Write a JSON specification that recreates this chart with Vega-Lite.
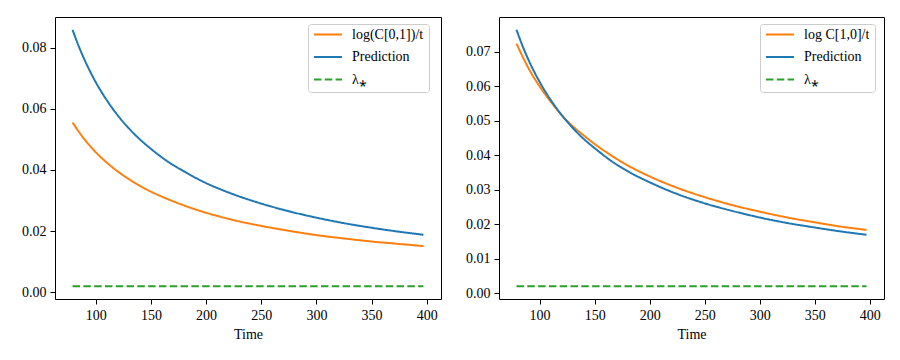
{
  "$schema": "https://vega.github.io/schema/vega-lite/v6.json",
  "padding": {"left": 18, "top": 16, "right": 5, "bottom": 5},
  "background": "white",
  "spacing": 20,
  "config": {
    "font": "Liberation Serif",
    "view": {"stroke": "black", "strokeWidth": 1},
    "axis": {
      "domain": false,
      "grid": false,
      "ticks": true,
      "tickColor": "black",
      "tickSize": 5,
      "tickWidth": 1,
      "labelColor": "black",
      "labelFont": "Liberation Serif",
      "labelFontSize": 14,
      "labelPadding": 4,
      "titleFont": "Liberation Serif",
      "titleFontSize": 14,
      "titleFontWeight": "normal",
      "titleColor": "black"
    },
    "legend": {
      "labelFont": "Liberation Serif",
      "labelFontSize": 14,
      "labelColor": "black",
      "symbolType": "stroke",
      "symbolSize": 784,
      "symbolStrokeWidth": 2,
      "labelOffset": 9,
      "clipHeight": 11,
      "rowPadding": 7.5,
      "padding": 5,
      "strokeColor": "#cccccc",
      "fillColor": "rgba(255,255,255,0.8)",
      "cornerRadius": 3,
      "title": null
    }
  },
  "datasets": {
    "rows": [
      {"panel": "L", "series": "log(C[0,1])/t", "t": 79, "v": 0.0555},
      {"panel": "L", "series": "log(C[0,1])/t", "t": 85, "v": 0.0523},
      {"panel": "L", "series": "log(C[0,1])/t", "t": 90, "v": 0.0499},
      {"panel": "L", "series": "log(C[0,1])/t", "t": 100, "v": 0.0458},
      {"panel": "L", "series": "log(C[0,1])/t", "t": 110, "v": 0.0424},
      {"panel": "L", "series": "log(C[0,1])/t", "t": 120, "v": 0.0395},
      {"panel": "L", "series": "log(C[0,1])/t", "t": 130, "v": 0.0370},
      {"panel": "L", "series": "log(C[0,1])/t", "t": 140, "v": 0.0348},
      {"panel": "L", "series": "log(C[0,1])/t", "t": 150, "v": 0.0329},
      {"panel": "L", "series": "log(C[0,1])/t", "t": 165, "v": 0.0305},
      {"panel": "L", "series": "log(C[0,1])/t", "t": 180, "v": 0.0284},
      {"panel": "L", "series": "log(C[0,1])/t", "t": 200, "v": 0.0260},
      {"panel": "L", "series": "log(C[0,1])/t", "t": 225, "v": 0.0236},
      {"panel": "L", "series": "log(C[0,1])/t", "t": 250, "v": 0.0217},
      {"panel": "L", "series": "log(C[0,1])/t", "t": 275, "v": 0.0201},
      {"panel": "L", "series": "log(C[0,1])/t", "t": 300, "v": 0.0187},
      {"panel": "L", "series": "log(C[0,1])/t", "t": 325, "v": 0.0176},
      {"panel": "L", "series": "log(C[0,1])/t", "t": 350, "v": 0.0166},
      {"panel": "L", "series": "log(C[0,1])/t", "t": 375, "v": 0.0158},
      {"panel": "L", "series": "log(C[0,1])/t", "t": 397, "v": 0.0151},
      {"panel": "L", "series": "Prediction", "t": 79, "v": 0.0858},
      {"panel": "L", "series": "Prediction", "t": 85, "v": 0.0801},
      {"panel": "L", "series": "Prediction", "t": 90, "v": 0.0759},
      {"panel": "L", "series": "Prediction", "t": 100, "v": 0.0687},
      {"panel": "L", "series": "Prediction", "t": 110, "v": 0.0628},
      {"panel": "L", "series": "Prediction", "t": 120, "v": 0.0578},
      {"panel": "L", "series": "Prediction", "t": 130, "v": 0.0536},
      {"panel": "L", "series": "Prediction", "t": 140, "v": 0.0500},
      {"panel": "L", "series": "Prediction", "t": 150, "v": 0.0469},
      {"panel": "L", "series": "Prediction", "t": 165, "v": 0.0428},
      {"panel": "L", "series": "Prediction", "t": 180, "v": 0.0395},
      {"panel": "L", "series": "Prediction", "t": 200, "v": 0.0357},
      {"panel": "L", "series": "Prediction", "t": 225, "v": 0.0320},
      {"panel": "L", "series": "Prediction", "t": 250, "v": 0.0290},
      {"panel": "L", "series": "Prediction", "t": 275, "v": 0.0265},
      {"panel": "L", "series": "Prediction", "t": 300, "v": 0.0244},
      {"panel": "L", "series": "Prediction", "t": 325, "v": 0.0226},
      {"panel": "L", "series": "Prediction", "t": 350, "v": 0.0211},
      {"panel": "L", "series": "Prediction", "t": 375, "v": 0.0198},
      {"panel": "L", "series": "Prediction", "t": 397, "v": 0.0188},
      {"panel": "L", "series": "λ⁎", "t": 79, "v": 0.002},
      {"panel": "L", "series": "λ⁎", "t": 397, "v": 0.002},
      {"panel": "R", "series": "log C[1,0]/t", "t": 79, "v": 0.0723},
      {"panel": "R", "series": "log C[1,0]/t", "t": 85, "v": 0.0682},
      {"panel": "R", "series": "log C[1,0]/t", "t": 90, "v": 0.0651},
      {"panel": "R", "series": "log C[1,0]/t", "t": 100, "v": 0.0599},
      {"panel": "R", "series": "log C[1,0]/t", "t": 110, "v": 0.0555},
      {"panel": "R", "series": "log C[1,0]/t", "t": 120, "v": 0.0516},
      {"panel": "R", "series": "log C[1,0]/t", "t": 130, "v": 0.0484},
      {"panel": "R", "series": "log C[1,0]/t", "t": 140, "v": 0.0457},
      {"panel": "R", "series": "log C[1,0]/t", "t": 150, "v": 0.0432},
      {"panel": "R", "series": "log C[1,0]/t", "t": 165, "v": 0.0399},
      {"panel": "R", "series": "log C[1,0]/t", "t": 180, "v": 0.0370},
      {"panel": "R", "series": "log C[1,0]/t", "t": 200, "v": 0.0338},
      {"panel": "R", "series": "log C[1,0]/t", "t": 225, "v": 0.0305},
      {"panel": "R", "series": "log C[1,0]/t", "t": 250, "v": 0.0278},
      {"panel": "R", "series": "log C[1,0]/t", "t": 275, "v": 0.0255},
      {"panel": "R", "series": "log C[1,0]/t", "t": 300, "v": 0.0236},
      {"panel": "R", "series": "log C[1,0]/t", "t": 325, "v": 0.0219},
      {"panel": "R", "series": "log C[1,0]/t", "t": 350, "v": 0.0205},
      {"panel": "R", "series": "log C[1,0]/t", "t": 375, "v": 0.0192},
      {"panel": "R", "series": "log C[1,0]/t", "t": 397, "v": 0.0183},
      {"panel": "R", "series": "Prediction", "t": 79, "v": 0.0763},
      {"panel": "R", "series": "Prediction", "t": 85, "v": 0.0712},
      {"panel": "R", "series": "Prediction", "t": 90, "v": 0.0675},
      {"panel": "R", "series": "Prediction", "t": 100, "v": 0.0612},
      {"panel": "R", "series": "Prediction", "t": 110, "v": 0.0560},
      {"panel": "R", "series": "Prediction", "t": 120, "v": 0.0516},
      {"panel": "R", "series": "Prediction", "t": 130, "v": 0.0479},
      {"panel": "R", "series": "Prediction", "t": 140, "v": 0.0447},
      {"panel": "R", "series": "Prediction", "t": 150, "v": 0.0420},
      {"panel": "R", "series": "Prediction", "t": 165, "v": 0.0383},
      {"panel": "R", "series": "Prediction", "t": 180, "v": 0.0353},
      {"panel": "R", "series": "Prediction", "t": 200, "v": 0.0321},
      {"panel": "R", "series": "Prediction", "t": 225, "v": 0.0287},
      {"panel": "R", "series": "Prediction", "t": 250, "v": 0.0260},
      {"panel": "R", "series": "Prediction", "t": 275, "v": 0.0238},
      {"panel": "R", "series": "Prediction", "t": 300, "v": 0.0219},
      {"panel": "R", "series": "Prediction", "t": 325, "v": 0.0203},
      {"panel": "R", "series": "Prediction", "t": 350, "v": 0.0190},
      {"panel": "R", "series": "Prediction", "t": 375, "v": 0.0178},
      {"panel": "R", "series": "Prediction", "t": 397, "v": 0.0169},
      {"panel": "R", "series": "λ⁎", "t": 79, "v": 0.002},
      {"panel": "R", "series": "λ⁎", "t": 397, "v": 0.002}
    ]
  },
  "resolve": {"scale": {"color": "independent", "strokeDash": "independent", "y": "independent"}, "legend": {"color": "independent", "strokeDash": "independent"}},
  "hconcat": [
    {
      "width": 386,
      "height": 282,
      "data": {"name": "rows"},
      "transform": [{"filter": "datum.panel === 'L'"}],
      "mark": {"type": "line", "strokeWidth": 2, "clip": false, "interpolate": "monotone"},
      "encoding": {
        "x": {"field": "t", "type": "quantitative", "scale": {"domain": [63.1, 412.9], "nice": false, "zero": false},
              "axis": {"title": "Time", "values": [100, 150, 200, 250, 300, 350, 400], "titlePadding": 5}},
        "y": {"field": "v", "type": "quantitative", "scale": {"domain": [-0.00219, 0.08999], "nice": false, "zero": false},
              "axis": {"title": null, "values": [0, 0.02, 0.04, 0.06, 0.08], "format": ".2f", "minExtent": 36, "maxExtent": 36}},
        "color": {"field": "series", "type": "nominal",
                  "scale": {"domain": ["log(C[0,1])/t", "Prediction", "λ⁎"], "range": ["#ff7f0e", "#1f77b4", "#2ca02c"]},
                  "legend": {"orient": "none", "legendX": 253, "legendY": 7}},
        "strokeDash": {"field": "series", "type": "nominal",
                  "scale": {"domain": ["log(C[0,1])/t", "Prediction", "λ⁎"], "range": [[1, 0], [1, 0], [7.5, 3.3]]},
                  "legend": {"orient": "none", "legendX": 253, "legendY": 7}}
      }
    },
    {
      "width": 385,
      "height": 282,
      "data": {"name": "rows"},
      "transform": [{"filter": "datum.panel === 'R'"}],
      "mark": {"type": "line", "strokeWidth": 2, "clip": false, "interpolate": "monotone"},
      "encoding": {
        "x": {"field": "t", "type": "quantitative", "scale": {"domain": [63.1, 412.9], "nice": false, "zero": false},
              "axis": {"title": "Time", "values": [100, 150, 200, 250, 300, 350, 400], "titlePadding": 5}},
        "y": {"field": "v", "type": "quantitative", "scale": {"domain": [-0.00172, 0.0800], "nice": false, "zero": false},
              "axis": {"title": null, "values": [0, 0.01, 0.02, 0.03, 0.04, 0.05, 0.06, 0.07], "format": ".2f", "minExtent": 36, "maxExtent": 36}},
        "color": {"field": "series", "type": "nominal",
                  "scale": {"domain": ["log C[1,0]/t", "Prediction", "λ⁎"], "range": ["#ff7f0e", "#1f77b4", "#2ca02c"]},
                  "legend": {"orient": "none", "legendX": 261, "legendY": 7}},
        "strokeDash": {"field": "series", "type": "nominal",
                  "scale": {"domain": ["log C[1,0]/t", "Prediction", "λ⁎"], "range": [[1, 0], [1, 0], [7.5, 3.3]]},
                  "legend": {"orient": "none", "legendX": 261, "legendY": 7}}
      }
    }
  ]
}
